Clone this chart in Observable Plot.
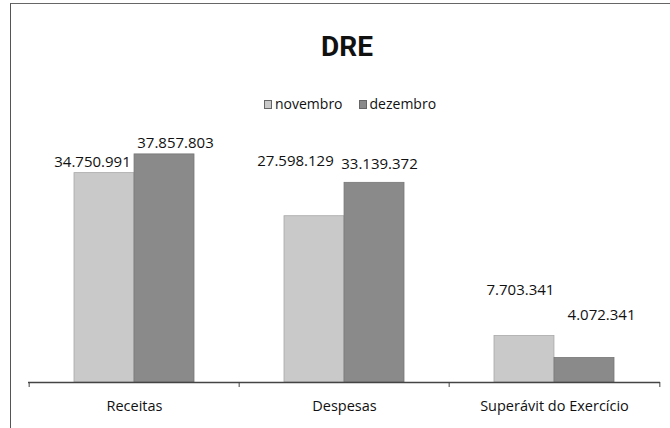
<!DOCTYPE html>
<html><head><meta charset="utf-8">
<script src="https://cdn.jsdelivr.net/npm/d3@7"></script>
<script src="https://cdn.jsdelivr.net/npm/@observablehq/plot@0.6"></script>
<style>
body{margin:0;background:#fff;}
#wrap{position:relative;width:670px;height:428px;overflow:hidden;font-family:"Open Sans",sans-serif;color:#111;}
#frame{position:absolute;left:10px;top:3px;width:680px;height:440px;border-top:1.5px solid #666;border-left:1.5px solid #555;}
#title{position:absolute;top:31px;left:0;width:646px;padding-left:24px;text-align:center;font:bold 28px "Liberation Sans Narrow","Roboto",sans-serif;line-height:32px;}
#legend{position:absolute;top:96px;left:264px;display:flex;align-items:center;font-size:14px;line-height:16px;}
#legend .sw{display:inline-block;width:6px;height:7px;margin-right:3px;border:0.5px solid #666;}
#legend .item{display:flex;align-items:center;margin-right:16px;}
#chart{position:absolute;left:0;top:120px;}
</style>
</head><body>
<div id="wrap">
  <div id="frame"></div>
  <div id="title">DRE</div>
  <div id="legend"></div>
  <div id="chart"></div>
</div>
<script>
// ---- data ----
const categories = ["Receitas", "Despesas", "Superávit do Exercício"];
const seriesNames = ["novembro", "dezembro"];
const novembro = [34750991, 27598129, 7703341];
const dezembro = [37857803, 33139372, 4072341];

// ---- build table ----
const rows = categories.flatMap((c, i) => [
  {category: c, series: "novembro", value: novembro[i], idx: i},
  {category: c, series: "dezembro", value: dezembro[i], idx: i}
]);

const br = d3.formatLocale({decimal: ",", thousands: ".", grouping: [3], currency: ["R$", ""]});
const fmt = br.format(",d");

// ---- styles / layout ----
const colors = {novembro: "#c9c9c9", dezembro: "#8a8a8a"};
const W = 670, H = 308, ML = 28, MR = 10, MT = 21, MB = 46;
const PI = 0.43, PO = 0.215;
const step = (W - ML - MR) / (categories.length - PI + 2 * PO);
const bw = step * (1 - PI);
const half = bw / 2;
// manual label nudges (as in the original, where labels were dragged)
const nudge = {
  novembro: [[-12, -11], [-19, -55], [-4, -46]],
  dezembro: [[11, -11], [5, -19], [17, -43]]
};

// legend
const legend = document.getElementById("legend");
seriesNames.forEach(s => {
  const it = document.createElement("span");
  it.className = "item";
  const sw = document.createElement("span");
  sw.className = "sw";
  sw.style.background = colors[s];
  it.appendChild(sw);
  it.appendChild(document.createTextNode(s));
  legend.appendChild(it);
});

const labelMarks = rows.map(r => Plot.text([r], {
  x: "category", y: "value", text: d => fmt(d.value),
  dx: (r.series === "novembro" ? -half / 2 : half / 2) + nudge[r.series][r.idx][0],
  dy: nudge[r.series][r.idx][1],
  fontSize: 15, fill: "#111"
}));

const chart = Plot.plot({
  width: W, height: H,
  marginLeft: ML, marginRight: MR, marginTop: MT, marginBottom: MB,
  style: {fontFamily: "'Open Sans', sans-serif", background: "transparent", overflow: "visible"},
  x: {domain: categories, paddingInner: PI, paddingOuter: PO, label: null},
  y: {domain: [0, 40000000], axis: null},
  marks: [
    Plot.barY(rows.filter(d => d.series === "novembro"), {x: "category", y: "value", fill: colors.novembro, insetRight: half, stroke: "#a8a8a8", strokeWidth: 0.8}),
    Plot.barY(rows.filter(d => d.series === "dezembro"), {x: "category", y: "value", fill: colors.dezembro, insetLeft: half, stroke: "#777", strokeWidth: 0.8}),
    Plot.ruleY([0], {stroke: "#444", strokeWidth: 1.5}),
    Plot.axisX({tickSize: 0, tickPadding: 18, fontSize: 14.5, fill: "#111", label: null}),
    Plot.axisX({tickSize: 5, dx: -step / 2, tickFormat: () => "", label: null, stroke: "#444"}),
    Plot.axisX({ticks: [categories[categories.length - 1]], tickSize: 5, dx: step / 2, tickFormat: () => "", label: null, stroke: "#444"}),
    ...labelMarks
  ]
});
document.getElementById("chart").appendChild(chart);
</script>
</body></html>
